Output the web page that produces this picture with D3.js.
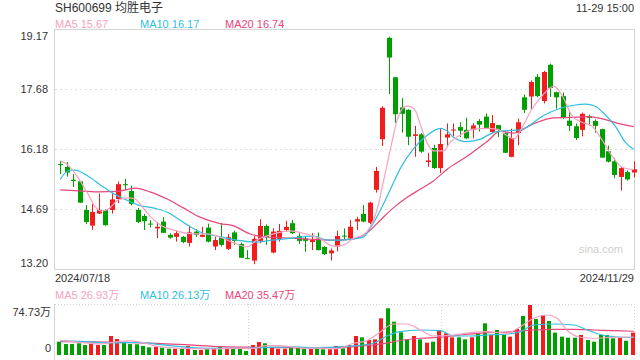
<!DOCTYPE html>
<html>
<head>
<meta charset="utf-8">
<script src="https://cdn.jsdelivr.net/npm/d3@7"></script>
<style>
  body { margin: 0; background: #fff; }
  svg { font-family: Arial, "Liberation Sans", "Noto Sans CJK SC", sans-serif; }
</style>
</head>
<body>
<div id="chart"></div>
<script>
// ---- data ----
const title = "SH600699 均胜电子";
const stamp = "11-29 15:00";
const dateLabels = ["2024/07/18", "2024/11/29"];
const priceTicks = [13.20, 14.69, 16.18, 17.68, 19.17];
const volTicks = [0, 74.73];
const legendPrice = [["MA5", "15.67"], ["MA10", "16.17"], ["MA20", "16.74"]];
const legendVol = [["MA5", "26.93万"], ["MA10", "26.13万"], ["MA20", "35.47万"]];

const open = [15.81,15.74,15.42,15.38,14.67,14.28,14.58,14.67,14.67,14.94,
  15.31,15.14,14.67,14.52,14.33,14.21,14.38,14.05,14.00,14.00,
  13.85,14.13,14.00,14.23,13.76,13.99,13.70,14.11,13.82,13.47,
  13.41,13.90,14.27,13.61,13.95,14.17,14.34,14.02,13.96,13.87,
  13.96,13.75,13.59,13.76,14.03,13.96,14.38,14.57,14.35,15.17,
  16.43,18.95,17.97,17.22,17.16,16.51,16.55,15.86,16.21,15.71,
  16.47,16.65,16.73,16.66,16.66,16.88,16.99,16.61,16.78,16.58,
  15.99,16.58,17.47,17.49,17.98,17.38,18.28,17.60,17.50,16.89,
  16.75,16.66,17.00,16.88,16.68,16.13,15.88,15.49,15.61,15.60];
const close = [15.80,15.60,15.39,14.85,14.37,14.62,14.67,14.29,14.93,15.31,
  15.30,14.82,14.37,14.39,14.31,14.25,14.10,13.98,14.09,13.87,
  14.11,14.05,14.05,13.88,13.92,13.80,13.99,13.90,13.48,13.46,
  13.95,14.27,13.99,14.13,14.15,14.25,14.09,13.90,13.90,13.92,
  13.67,13.57,13.66,14.02,14.01,14.25,14.44,14.38,14.85,15.64,
  17.21,18.46,17.05,17.06,16.49,16.55,16.12,15.90,15.71,16.31,
  16.55,16.67,16.64,16.45,16.77,16.79,16.70,16.83,16.66,16.09,
  16.46,16.85,17.16,17.85,17.50,18.10,17.70,17.47,16.97,16.76,
  16.46,17.06,16.96,16.76,15.97,15.87,15.54,15.71,15.43,15.68];
const high = [15.89,15.86,15.56,15.39,14.79,14.82,15.08,14.68,15.09,15.37,
  15.44,15.27,14.72,14.57,14.42,14.36,14.49,14.09,14.15,14.02,
  14.28,14.19,14.25,14.33,14.00,14.35,14.07,14.15,13.86,13.67,
  14.02,14.44,14.31,14.21,14.32,14.40,14.42,14.09,14.00,14.09,
  14.11,13.77,13.71,14.15,14.21,14.42,14.50,14.79,14.87,15.74,
  17.25,18.98,17.98,17.45,17.17,16.76,16.58,16.09,16.29,16.70,
  16.82,16.82,16.85,16.96,16.83,16.93,17.07,17.03,16.78,16.60,
  16.69,16.94,17.54,17.89,18.05,18.13,18.31,17.61,17.59,17.13,
  16.82,17.09,17.04,16.92,16.69,16.27,15.96,15.74,15.65,15.88];
const low = [15.56,15.50,15.24,14.84,14.32,14.17,14.57,14.28,14.58,14.84,
  15.17,14.78,14.34,14.17,14.23,13.97,14.09,13.95,13.88,13.84,
  13.76,14.00,13.99,13.86,13.67,13.76,13.67,13.80,13.47,13.45,
  13.32,13.84,13.80,13.59,13.88,14.13,14.07,13.82,13.63,13.67,
  13.66,13.55,13.41,13.64,13.92,13.92,14.17,14.36,14.32,15.10,
  16.26,17.55,16.84,16.59,16.28,15.99,16.09,15.74,15.69,15.59,
  16.24,16.50,16.48,16.43,16.45,16.62,16.68,16.58,16.48,16.09,
  15.98,16.28,17.08,17.17,17.47,17.32,17.48,17.19,16.93,16.63,
  16.41,16.50,16.77,16.59,15.97,15.85,15.46,15.15,15.40,15.48];
// volume, 万 shares
const volume = [19.9,16.4,16.4,17.5,14.9,17.5,14.9,14.9,28.4,23.9,
  18.4,16.4,16.0,13.5,11.5,12.4,10.9,9.4,9.4,9.4,
  13.5,7.5,7.5,9.4,9.4,12.4,9.4,10.5,9.4,6.0,
  14.9,19.4,17.5,11.5,9.4,9.4,10.9,10.9,9.0,9.0,
  9.4,8.5,8.5,13.5,10.0,14.9,28.4,26.4,22.4,23.4,
  54.8,69.8,49.8,33.9,23.4,28.4,23.4,18.4,19.9,37.4,
  32.4,26.4,26.4,23.4,26.4,31.4,47.3,29.9,37.4,29.9,
  27.4,38.9,58.3,74.73,53.8,59.8,50.8,33.4,27.4,25.9,
  25.9,29.9,22.4,19.9,29.9,29.9,24.9,25.9,21.4,33.4];

// moving averages: [day index, value]
const ma5 = [[0,15.89],[1,15.81],[2.8,15.46],[4.4,15.04],[5.4,14.75],[6.4,14.64],[7.7,14.72],
  [9,14.92],[10.5,14.97],[11.6,14.94],[12.7,14.75],[14.2,14.47],[15.8,14.27],[17.8,14.16],
  [20,14.08],[23,14.07],[25.3,13.96],[27.4,13.82],[29,13.75],[30.5,13.92],[32.6,14.05],
  [34.6,14.13],[35.7,14.15],[37.7,14.09],[40.3,13.96],[42.4,13.77],[44,13.80],[45.5,13.96],
  [47.1,14.05],[48.1,14.25],[49.1,14.63],[50.2,15.41],[51.2,16.16],[52.3,16.91],[53.3,17.22],
  [54,17.25],[55.1,17.14],[55.9,16.78],[56.9,16.35],[57.9,16.14],[59.5,16.14],[60.5,16.35],
  [62.1,16.53],[64.1,16.68],[66.2,16.70],[67.8,16.68],[69.3,16.52],[70.4,16.43],[71.7,16.73],
  [73.2,17.18],[74.8,17.51],[75.8,17.68],[76.6,17.75],[77.9,17.51],[79.4,17.01],[80.9,16.85],
  [82.5,16.76],[84,16.43],[85.6,16.02],[87.2,15.73],[89,15.67]];
const ma10 = [[0,15.43],[1.3,15.65],[2.3,15.66],[4.4,15.50],[6.4,15.27],[8,15.10],[10.1,14.93],
  [12.1,14.79],[14.7,14.71],[16.8,14.60],[17.8,14.50],[20.2,14.25],[22.2,14.09],[24.3,14.02],
  [27.4,13.92],[30.5,13.87],[32.6,13.91],[35.7,13.96],[39.3,14.02],[41.4,13.92],[43.4,13.92],
  [45.5,13.95],[47.1,14.00],[48.1,14.22],[49.7,14.67],[51.2,15.17],[52.8,15.71],[54.8,16.19],
  [56.9,16.52],[59,16.70],[60,16.64],[61,16.48],[63.1,16.37],[65.2,16.43],[67.3,16.60],
  [69.3,16.64],[71.4,16.66],[72.7,16.76],[74.8,17.00],[77.3,17.18],[79.9,17.28],[81.5,17.30],
  [83,17.25],[84.6,17.03],[86.1,16.76],[87.7,16.35],[89,16.17]];
const ma20 = [[0,15.17],[2.3,15.15],[5.9,15.12],[8.8,15.13],[11.6,15.21],[13.9,15.12],
  [16.6,14.94],[19.1,14.72],[21.7,14.49],[24.8,14.33],[26.8,14.28],[29.5,14.07],[32.6,13.99],
  [35.7,13.97],[38.8,13.94],[42.4,13.92],[45.5,13.95],[47.6,14.10],[49.7,14.42],[51.7,14.72],
  [53.9,14.99],[55.9,15.19],[57.9,15.39],[60.1,15.69],[63.2,16.01],[66.3,16.38],[68.3,16.63],
  [70.3,16.58],[73.4,16.81],[76.5,16.96],[79.2,16.97],[81.8,16.99],[84.3,16.93],[86.9,16.81],
  [89,16.74]];
const vma5 = [[0,22],[3,19],[6,16.5],[9,20],[11,21],[13,18],[15,13],[18,10.5],[21,9.5],[24,9],
  [27,10],[30,10],[32,14],[34,14],[36,12],[38,10],[40,10.5],[43,9.5],[45.5,17.5],[47.6,21.4],
  [49.7,34.8],[51.7,46.3],[53.8,46.3],[55.9,37.4],[57.9,28.4],[61,29.9],[63.6,33.3],[66.2,34.8],
  [69.3,32.4],[71.4,42.3],[73.5,54.9],[75.5,59.8],[77.1,54.9],[78.6,37.4],[80.7,26.5],
  [82.8,25],[85.9,26.5],[89,26.93]];
const vma10 = [[0,21],[4,20],[8,18],[12,19],[16,15],[20,11.5],[24,10],[28,10],[32,11.5],[36,12],
  [40,11],[45.5,13.5],[48.6,17.5],[50.7,28.4],[52.7,34.8],[55.9,37.4],[59,36.3],[61,28.4],
  [63.6,28.4],[66.2,29.9],[69.3,31.4],[71.4,34.8],[73.5,44.8],[76.6,46.3],[79.7,44.8],
  [81.8,37.4],[84.9,28.4],[89,26.13]];
const vma20 = [[0,20],[5,19.5],[10,19],[15,17.5],[20,15],[25,12.5],[30,11.5],[35,11],[40,10.5],
  [45.5,12.4],[49.7,16.4],[53.3,22.4],[55.9,25],[59,26.5],[62.1,29.9],[66.2,33.3],[70.4,34.8],
  [73.5,37.4],[76.6,38.4],[79.7,38.4],[82.8,37.4],[85.9,36.3],[89,35.47]];
const volDividers = [29.2, 59.1];

// ---- drawing ----
const width = 640, height = 360;
const left = 55, right = 634;
const up = "#f21c1c", down = "#009f00";
const c5 = "#f7a1c2", c10 = "#2fbfdf", c20 = "#e8457b";

const svg = d3.select("#chart").append("svg")
  .attr("width", width).attr("height", height);

const x = d3.scaleLinear().domain([-0.5, 89.5]).range([57, 637]);
const y = d3.scaleLinear().domain([13.20, 19.17]).range([269, 29]);
const yv = d3.scaleLinear().domain([0, 74.73]).range([355, 305]);

// header
svg.append("text").attr("x", left).attr("y", 12)
  .attr("font-size", 12).attr("fill", "#333").text(title);
svg.append("text").attr("x", right).attr("y", 12).attr("text-anchor", "end")
  .attr("font-size", 11).attr("fill", "#333").text(stamp);

function legend(items, yPos) {
  const cols = [c5, c10, c20];
  svg.append("g").selectAll("text").data(items).join("text")
    .attr("x", (d, i) => left + i * 85).attr("y", yPos)
    .attr("font-size", 11).attr("fill", (d, i) => cols[i])
    .text(d => d[0] + " " + d[1]);
}
legend(legendPrice, 28);
legend(legendVol, 299);

// price grid + frame
svg.append("g").selectAll("line").data(priceTicks.slice(1, -1)).join("line")
  .attr("x1", left).attr("x2", right)
  .attr("y1", d => Math.round(y(d)) + 0.5).attr("y2", d => Math.round(y(d)) + 0.5)
  .attr("stroke", "#dcdcdc").attr("stroke-dasharray", "2,3");
svg.append("rect").attr("x", left - 0.5).attr("y", 29.5)
  .attr("width", right - left + 1).attr("height", 240)
  .attr("fill", "none").attr("stroke", "#d4d4d4");

const yAxis = svg.append("g").attr("transform", `translate(${left - 4},0)`)
  .call(d3.axisLeft(y).tickValues(priceTicks).tickSize(0).tickFormat(d3.format(".2f")));
yAxis.select(".domain").remove();
yAxis.selectAll("text").attr("font-size", 11).attr("fill", "#333")
  .attr("font-family", "Arial, 'Liberation Sans', sans-serif")
  .attr("dy", (d, i) => i === 0 ? "-0.2em" : i === priceTicks.length - 1 ? "0.95em" : "0.32em");

svg.append("text").attr("x", 623).attr("y", 253).attr("text-anchor", "end")
  .attr("font-size", 11).attr("fill", "#cfcfcf").text("sina.com");

// candles
const idx = d3.range(open.length);
const col = i => close[i] > open[i] ? up : down;
const candles = svg.append("g");
candles.selectAll("line").data(idx).join("line")
  .attr("x1", i => Math.round(x(i)) + 0.5).attr("x2", i => Math.round(x(i)) + 0.5)
  .attr("y1", i => y(high[i])).attr("y2", i => y(low[i]))
  .attr("stroke", col);
candles.selectAll("rect").data(idx).join("rect")
  .attr("x", i => Math.round(x(i)) - 2)
  .attr("y", i => y(Math.max(open[i], close[i])))
  .attr("width", 5)
  .attr("height", i => Math.max(1, Math.abs(y(open[i]) - y(close[i]))))
  .attr("fill", col);

// MA lines
const line = d3.line().x(d => x(d[0])).y(d => y(d[1])).curve(d3.curveMonotoneX);
[[ma20, c20], [ma10, c10], [ma5, c5]].forEach(([s, c]) => {
  svg.append("path").attr("d", line(s)).attr("fill", "none")
    .attr("stroke", c).attr("stroke-width", 1.2);
});

// date labels
svg.append("text").attr("x", left).attr("y", 282).attr("font-size", 11)
  .attr("fill", "#333").text(dateLabels[0]);
svg.append("text").attr("x", right).attr("y", 282).attr("font-size", 11)
  .attr("text-anchor", "end").attr("fill", "#333").text(dateLabels[1]);

// volume panel
svg.append("line").attr("x1", left).attr("x2", right).attr("y1", 304.5).attr("y2", 304.5)
  .attr("stroke", "#d4d4d4").attr("stroke-dasharray", "1,2");
svg.append("line").attr("x1", left - 0.5).attr("x2", left - 0.5).attr("y1", 304).attr("y2", 360)
  .attr("stroke", "#d4d4d4");
svg.append("g").selectAll("line").data(volDividers).join("line")
  .attr("x1", d => Math.round(x(d)) + 0.5).attr("x2", d => Math.round(x(d)) + 0.5)
  .attr("y1", 304).attr("y2", 360)
  .attr("stroke", "#d4d4d4").attr("stroke-dasharray", "1,2");
svg.append("line").attr("x1", right + 0.5).attr("x2", right + 0.5).attr("y1", 304).attr("y2", 360)
  .attr("stroke", "#d4d4d4").attr("stroke-dasharray", "1,2");

svg.append("g").selectAll("text").data(volTicks).join("text")
  .attr("x", left - 4).attr("y", d => yv(d)).attr("text-anchor", "end")
  .attr("dy", (d, i) => i === 0 ? "-0.3em" : "1em")
  .attr("font-size", 11).attr("fill", "#333")
  .text(d => d === 0 ? "0" : d3.format(".2f")(d) + "万");

svg.append("g").selectAll("rect").data(idx).join("rect")
  .attr("x", i => Math.round(x(i)) - 3)
  .attr("y", i => yv(volume[i]))
  .attr("width", 4)
  .attr("height", i => yv(0) - yv(volume[i]))
  .attr("fill", col);

const vline = d3.line().x(d => x(d[0])).y(d => yv(d[1])).curve(d3.curveMonotoneX);
[[vma20, c20], [vma10, c10], [vma5, c5]].forEach(([s, c]) => {
  svg.append("path").attr("d", vline(s)).attr("fill", "none")
    .attr("stroke", c).attr("stroke-width", 1.2);
});
</script>
</body>
</html>
